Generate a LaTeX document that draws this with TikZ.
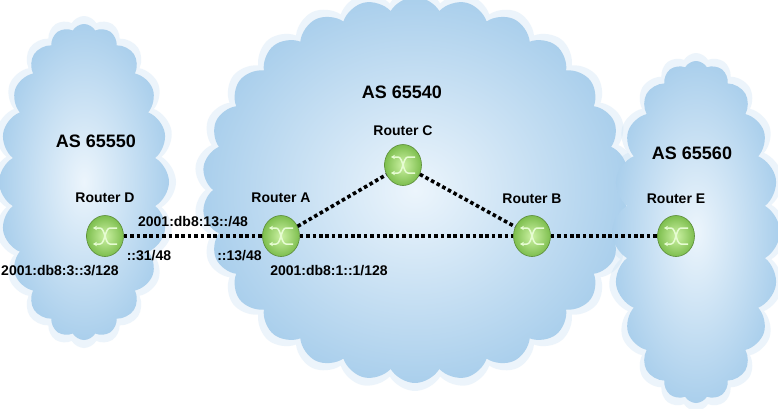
\documentclass[tikz,border=0pt]{standalone}
\usepackage{fontspec}
\setmainfont{Liberation Sans}
\usetikzlibrary{
	positioning,
	shapes.geometric,
	shapes.symbols,
	arrows.meta
}

\definecolor{cloudin}{RGB}{236,245,252}
\definecolor{cloudout}{RGB}{170,207,236}
\definecolor{routerhi}{RGB}{205,242,165}
\definecolor{routerball}{RGB}{125,190,78}
\definecolor{routerrim}{RGB}{90,140,55}
\definecolor{routersym}{RGB}{230,252,210}

\tikzset{
	ascloud/.style={cloud, cloud puffs=#1, cloud puff arc=120, cloud ignores aspect,
		inner color=cloudin, outer color=cloudout, draw=none, inner sep=0pt},
	cloudhalo/.style={cloud, cloud puffs=#1, cloud puff arc=120, cloud ignores aspect,
		fill=cloudout!70, opacity=0.3, draw=none, inner sep=0pt},
	routersign/.style={draw=routersym, line width=1.5pt, {Stealth[length=4pt,width=4.5pt]}-},
	router/.style={ellipse, minimum width=37pt, minimum height=41pt, inner sep=0pt,
		inner color=routerhi, outer color=routerball, draw=routerrim, line width=0.6pt,
		path picture={
			\begin{scope}[shift={(path picture bounding box.center)}]
				\draw[routersign] (-12,-8) -- (-5,-8) .. controls (0,-8) and (0,8) .. (5,8) -- (12,8);
				\draw[routersign] (-12,8) -- (-5,8) .. controls (0,8) and (0,-8) .. (5,-8) -- (12,-8);
			\end{scope}
		}},
	link/.style={line width=3.6pt, dash pattern=on 3.6pt off 2.8pt},
	asname/.style={font=\bfseries\fontsize{18}{20}\selectfont, inner sep=0pt},
	rname/.style={font=\bfseries\fontsize{14}{16}\selectfont, inner sep=0pt},
	addr/.style={font=\bfseries\fontsize{14}{16}\selectfont, inner sep=0pt}
}

\begin{document}
\begin{tikzpicture}[x=1pt,y=-1pt]
	\fill[white] (0,0) rectangle (778,408);
	\useasboundingbox (0,0) rectangle (778,408);
	\clip (0,0) rectangle (778,408);

	% clouds
	\node [cloudhalo=20, minimum width=184pt, minimum height=332pt] (h65550) at (84,182) {};
	\node [cloudhalo=26, minimum width=442pt, minimum height=402pt] (h65540) at (415,190) {};
	\node [cloudhalo=20, minimum width=182pt, minimum height=358pt] (h65560) at (696,232) {};
	\node [ascloud=20, minimum width=170pt, minimum height=316pt] (as65550) at (84,182) {};
	\node [ascloud=26, minimum width=426pt, minimum height=386pt] (as65540) at (415,190) {};
	\node [ascloud=20, minimum width=168pt, minimum height=342pt] (as65560) at (696,232) {};

	\node [asname] (n65550) at (96,141) {AS 65550};
	\node [asname] (n65540) at (402,92) {AS 65540};
	\node [asname] (n65560) at (692,153) {AS 65560};

	% routers
	\draw
		node [router] (rD) at (105,236) {}
		node [router] (rA) at (281,236) {}
		node [router] (rC) at (403,165) {}
		node [router] (rB) at (532,236) {}
		node [router] (rE) at (676,236) {}
	;

	\draw[link] (rD) -- (rA);
	\draw[link] (rA) -- (rC);
	\draw[link] (rC) -- (rB);
	\draw[link] (rA) -- (rB);
	\draw[link] (rB) -- (rE);

	\node [rname, above=12pt of rD] (lD) {Router D};
	\node [rname, above=12pt of rA] (lA) {Router A};
	\node [rname, above=8pt of rC]  (lC) {Router C};
	\node [rname, above=11pt of rB] (lB) {Router B};
	\node [rname, above=11pt of rE] (lE) {Router E};

	% addresses
	\node [addr] (netDA) at (193,222) {2001:db8:13::/48};
	\node [addr] (ifD)   at (149,256) {::31/48};
	\node [addr] (ifA)   at (239.5,256) {::13/48};
	\node [addr] (loD)   at (60,271) {2001:db8:3::3/128};
	\node [addr] (loA)   at (329,271) {2001:db8:1::1/128};
\end{tikzpicture}
\end{document}
